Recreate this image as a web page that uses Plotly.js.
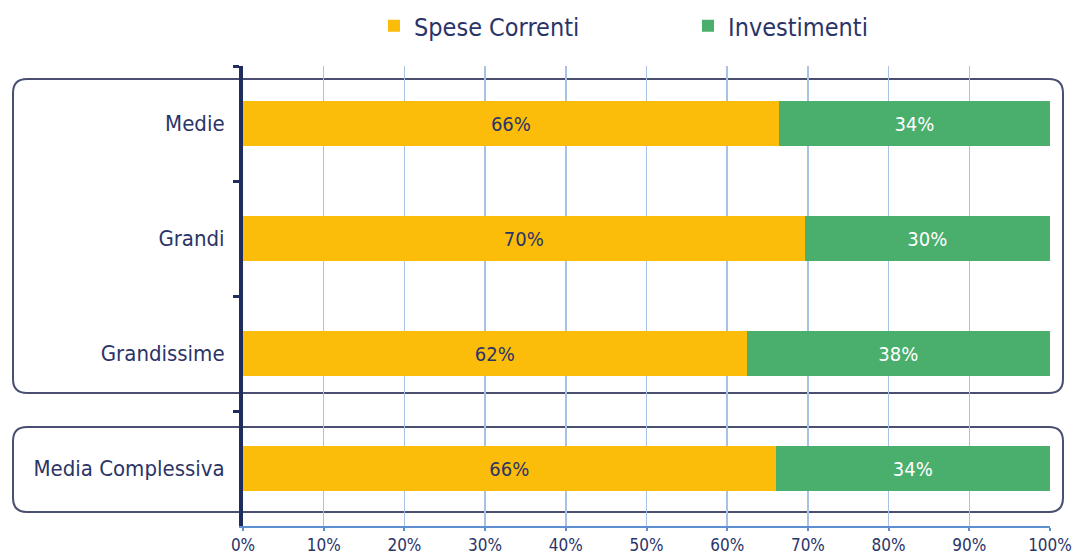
<!DOCTYPE html>
<html><head><meta charset="utf-8">
<script src="https://cdn.plot.ly/plotly-3.0.1.min.js"></script>
<style>html,body{margin:0;padding:0;background:#fff}#chart{width:1073px;height:560px}</style>
</head><body><div id="chart"></div>
<script>
const categories = ["Medie", "Grandi", "Grandissime", "Media Complessiva"];
const speseCorrenti = [66.4, 69.6, 62.4, 66.0];
const investimenti = [33.6, 30.4, 37.6, 34.0];
const seriesNames = ["Spese Correnti", "Investimenti"];

const W = 1073, H = 560;
const M = {l: 243, r: 23, t: 66, b: 34};
const PW = W - M.l - M.r, PH = H - M.t - M.b;
const px = x => (x - M.l) / PW;
const py = y => (H - M.b - y) / PH;
function roundRect(x0, y0, x1, y1, r) {
  const a = px(x0), b = px(x1), c = py(y0), d = py(y1);
  const rx = r / PW, ry = r / PH;
  return `M${a + rx},${c} L${b - rx},${c} Q${b},${c} ${b},${c - ry} L${b},${d + ry} Q${b},${d} ${b - rx},${d} L${a + rx},${d} Q${a},${d} ${a},${d + ry} L${a},${c - ry} Q${a},${c} ${a + rx},${c} Z`;
}

const navy = "#2b3467";
const font = "DejaVu Sans Condensed, DejaVu Sans, sans-serif";

const traces = [
  {type: "bar", orientation: "h", name: seriesNames[0], y: categories, x: speseCorrenti,
   marker: {color: "#fbbd0a", line: {width: 0}}, width: 0.39,
   texttemplate: "%{x:.0f}%", textposition: "inside", insidetextanchor: "middle",
   textfont: {color: navy, size: 20, family: font}, hoverinfo: "skip"},
  {type: "bar", orientation: "h", name: seriesNames[1], y: categories, x: investimenti,
   marker: {color: "#4aae6c", line: {width: 0}}, width: 0.39,
   texttemplate: "%{x:.0f}%", textposition: "inside", insidetextanchor: "middle",
   textfont: {color: "#ffffff", size: 20, family: font}, hoverinfo: "skip"}
];

const layout = {
  width: W, height: H, margin: M,
  paper_bgcolor: "#fff", plot_bgcolor: "rgba(0,0,0,0)",
  barmode: "stack", bargap: 0.6,
  font: {family: font, color: navy},
  showlegend: true,
  legend: {orientation: "h", xref: "container", yref: "container",
           x: 374 / W, xanchor: "left", y: (H - 26) / H, yanchor: "middle",
           font: {size: 25, family: font, color: navy},
           entrywidth: 269, entrywidthmode: "pixels", traceorder: "normal"},
  xaxis: {range: [0, 100], dtick: 10, tick0: 0, ticksuffix: "%",
          showgrid: true, gridcolor: "#a8c2e6", gridwidth: 1.5, zeroline: false,
          showline: true, linecolor: "#5b8fd0", linewidth: 2,
          ticks: "outside", ticklen: 3, tickwidth: 2, tickcolor: "#5b8fd0",
          tickfont: {size: 17, family: font, color: navy}, fixedrange: true},
  yaxis: {type: "category", autorange: "reversed", showgrid: false, zeroline: false,
          showline: true, linecolor: "#1f2c5e", linewidth: 4,
          ticks: "outside", tickson: "boundaries", ticklen: 6, tickwidth: 3, tickcolor: "#1f2c5e",
          ticklabelstandoff: 10,
          tickfont: {size: 22, family: font, color: navy}, fixedrange: true},
  shapes: [
    {type: "path", xref: "paper", yref: "paper", layer: "between",
     path: roundRect(13, 79, 1063, 393, 14), line: {color: "#4a4f72", width: 2}},
    {type: "path", xref: "paper", yref: "paper", layer: "between",
     path: roundRect(13, 427, 1063, 512, 14), line: {color: "#4a4f72", width: 2}}
  ]
};

Plotly.newPlot("chart", traces, layout, {staticPlot: true, displayModeBar: false});
</script></body></html>
